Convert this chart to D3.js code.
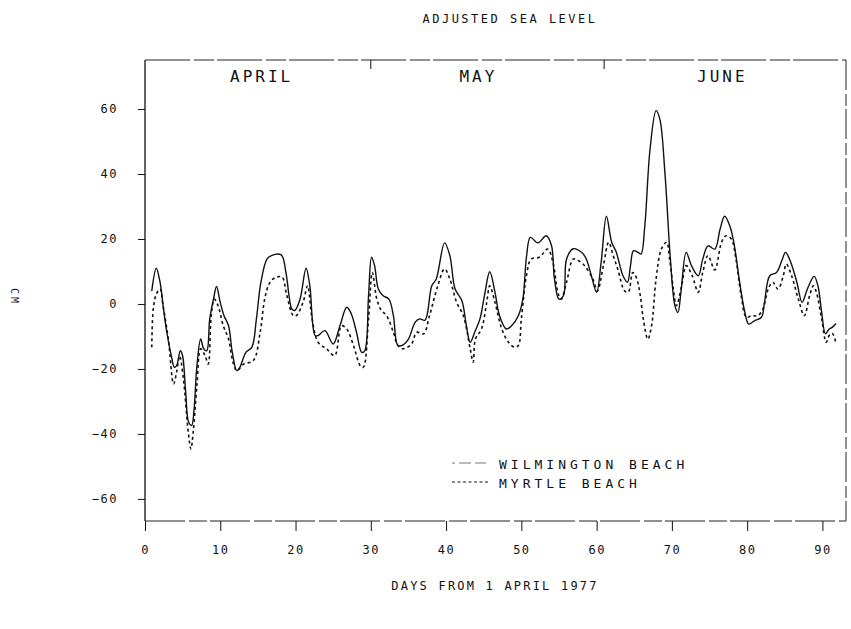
<!DOCTYPE html>
<html>
<head>
<meta charset="utf-8">
<script src="https://cdn.jsdelivr.net/npm/d3@7"></script>
<style>
  body { margin: 0; background: #fff; }
  text { font-family: "DejaVu Sans Mono", monospace; fill: #111; }
</style>
</head>
<body>
<div id="chart"></div>
<script>
// chart size and the plot box
const width = 851,
    height = 629;
const plotLeft = 145, plotRight = 842, plotTop = 60, plotBottom = 521;

// data: days from 1 April 1977, sea level in cm
const wilmingtonDays = [0.9, 1.5, 2.0, 2.4, 2.9, 3.5, 3.9, 4.2, 4.7, 5.0, 5.4, 5.8, 6.2, 6.5, 6.9, 7.4, 7.8, 8.2, 8.6, 9.1,
  9.5, 10.0, 10.5, 11.1, 11.6, 12.2, 12.6, 13.4, 14.2, 14.8, 15.4, 16.2, 16.8, 18.1, 18.7, 19.2, 19.5, 19.9, 20.6, 21.4,
  21.9, 22.6, 23.0, 23.9, 25.0, 25.9, 26.8, 27.4, 28.1, 28.8, 29.2, 29.7, 30.1, 30.5, 31.0, 31.6, 32.4, 33.0, 33.6, 34.3,
  35.0, 35.9, 36.5, 37.2, 38.1, 38.7, 39.8, 40.5, 41.2, 42.1, 42.7, 43.2, 43.8, 44.5, 45.1, 45.8, 46.5, 47.1, 48.0, 48.7,
  49.6, 50.2, 50.7, 51.2, 52.2, 53.3, 54.0, 54.4, 55.0, 55.6, 56.0, 56.9, 58.0, 58.6, 59.3, 60.0, 60.6, 61.3, 62.0, 62.6,
  63.5, 64.1, 64.5, 64.9, 65.5, 65.9, 66.4, 67.1, 67.9, 68.4, 69.1, 69.8, 70.4, 70.8, 71.2, 71.9, 72.6, 73.5, 74.1, 74.8,
  75.7, 76.4, 77.0, 77.7, 78.3, 79.0, 79.7, 80.2, 81.0, 81.9, 82.3, 83.0, 83.9, 84.6, 85.1, 85.8, 86.6, 87.3, 88.0, 88.9,
  89.4, 89.9, 90.4, 90.9, 91.3, 91.8];
const wilmingtonCm = [4, 11, 6.7, -0.5, -8.7, -16, -19.5, -19, -14.4, -16, -27, -36.4, -37.4, -33, -19, -10.8, -13.8, -14.4, -4.6, 1.5,
  5.4, 0.5, -3.6, -6.7, -14.9, -20.5, -19.5, -14.9, -13.3, -4.6, 6.7, 13.8, 14.9, 15.1, 10, 1.5, -1.5, -2, 1.5, 11,
  5.6, -9.7, -9.7, -8.2, -12.3, -6.7, -1, -3, -8.7, -14.9, -14.4, 2.6, 14.4, 11.8, 4.6, 2.6, 1.5, -3.6, -12.8, -12.6,
  -10.8, -5.6, -4.6, -5, 5.6, 7.7, 18.8, 14.9, 4.6, 1, -6.7, -11.8, -8.7, -4.6, 2.6, 9.9, 3.6, -3.6, -7.7, -6.7,
  -3.6, 1.5, 14.9, 20.5, 18.8, 21, 18, 7.7, 1.5, 2.6, 13.8, 17, 15.9, 14, 8.7, 3.6, 12.8, 27, 19, 16,
  8.7, 6.7, 11.8, 16.4, 15.9, 15.4, 24, 47.7, 59.5, 56.9, 39.5, 13.8, -0.5, -2.6, 3.6, 15.9, 11.8, 8.7, 13.8, 17.9,
  16.9, 23, 27, 24, 18, 6.7, -2.6, -6.2, -5.1, -4.1, 0.5, 8.7, 9.7, 13.3, 15.9, 12.8, 6.7, 0.5, 4.6, 8.5,
  5.6, -2.6, -9.2, -7.7, -7.2, -6];

const myrtleDays = [0.9, 1.1, 1.5, 2.0, 2.4, 3.1, 3.8, 4.2, 4.6, 5.1, 5.75, 6.1, 6.4, 6.9, 7.4, 8.0, 8.4, 8.8, 9.2, 9.7,
  10.4, 11.1, 11.7, 12.2, 13.1, 14.4, 15.3, 15.9, 16.5, 17.2, 18.2, 18.8, 19.7, 20.1, 21.0, 21.6, 22.2, 23.0, 24.1, 25.2,
  26.1, 26.8, 27.7, 28.6, 29.0, 29.7, 30.2, 30.8, 31.4, 32.1, 33.0, 33.6, 34.3, 35.4, 36.1, 37.0, 37.8, 38.9, 39.8, 40.5,
  41.4, 42.3, 43.2, 43.6, 43.9, 44.7, 45.4, 45.8, 46.5, 47.4, 48.3, 49.1, 49.6, 50.0, 50.7, 51.3, 52.4, 53.5, 54.2, 54.9,
  55.3, 56.0, 56.9, 57.6, 58.4, 59.5, 60.1, 60.9, 61.6, 62.2, 62.8, 63.7, 64.2, 64.8, 65.3, 65.8, 66.2, 66.8, 67.3, 67.9,
  68.6, 69.3, 69.7, 70.2, 70.6, 71.3, 71.9, 72.7, 73.5, 74.1, 74.8, 75.7, 76.6, 77.2, 77.9, 78.5, 79.2, 79.9, 80.6, 81.4,
  82.1, 82.8, 83.4, 84.1, 84.8, 85.2, 85.9, 86.8, 87.6, 88.3, 88.8, 89.2, 89.9, 90.5, 90.9, 91.3, 91.8];
const myrtleCm = [-13.3, -1.5, 3, 4.6, -0.5, -10.8, -24.6, -21, -16, -23, -39.5, -44.6, -39.5, -25, -13.8, -16, -18.5, -3.6, 1.5, -0.5,
  -6.7, -10.8, -18, -20.5, -18.5, -17.4, -8.7, 1.5, 6.2, 8, 8.3, 3, -3.6, -3.6, 0.5, 5.6, -4.6, -11.8, -13.8, -15.9,
  -6.7, -7.7, -12.8, -19, -19.5, -4.6, 9.7, 1.5, -2, -3.6, -8.7, -12.8, -13.8, -12.3, -8.7, -9.2, -3.6, 5.6, 10.8, 7.7,
  0.5, -3.6, -13.8, -17.9, -10.8, -7.7, 0.5, 5.6, 0.5, -7.7, -11.8, -13.3, -12.8, -4.6, 9, 13.8, 14.4, 16.9, 12.8, 3.1,
  1.5, 6.7, 13.8, 13.3, 11.8, 7.7, 4, 11.8, 19, 14.9, 10.8, 4.1, 3.6, 9.7, 8, 2.6, -4.6, -10.8, -6.7, 7.7,
  16.9, 19, 13.8, 4.6, -0.5, 5.6, 11.8, 8.7, 3.6, 9.7, 14.9, 10.5, 19, 21, 20, 14, 2.6, -4.1, -3.6, -3.6,
  -1.5, 4.6, 6.7, 4.6, 8.7, 12.3, 8.7, 1.5, -3.6, 2.6, 5.6, 3.6, -4.6, -11.8, -9.7, -9, -12];

const xTicks = [0, 10, 20, 30, 40, 50, 60, 70, 80, 90];
const yTicks = [-60, -40, -20, 0, 20, 40, 60];
const months = ["APRIL", "MAY", "JUNE"];
const monthStart = [0, 30, 61];
const monthMid = [15.5, 44.3, 76.7];

const svg = d3.select("#chart")
  .append("svg")
    .attr("width", width)
    .attr("height", height);

// scales
const x = d3.scaleLinear().domain([0, 92.6]).range([plotLeft, plotRight]);
const y = d3.scaleLinear().domain([-66.8, 75.1]).range([plotBottom, plotTop]);

// frame - the scanned original has a broken top/right/bottom line
svg.append("line")
  .attr("x1", plotLeft).attr("x2", plotLeft).attr("y1", plotTop).attr("y2", plotBottom)
  .attr("stroke", "#111").attr("stroke-width", 1.3);
svg.append("line")
  .attr("x1", plotLeft).attr("x2", plotRight + 4).attr("y1", plotTop).attr("y2", plotTop)
  .attr("stroke", "#222").attr("stroke-width", 1)
  .attr("stroke-dasharray", "45,4,20,3");
svg.append("line")
  .attr("x1", plotRight + 4).attr("x2", plotRight + 4).attr("y1", plotTop).attr("y2", plotBottom)
  .attr("stroke", "#222").attr("stroke-width", 1)
  .attr("stroke-dasharray", "30,4,12,3");
svg.append("line")
  .attr("x1", plotLeft).attr("x2", plotRight + 4).attr("y1", plotBottom).attr("y2", plotBottom)
  .attr("stroke", "#222").attr("stroke-width", 1)
  .attr("stroke-dasharray", "40,4,18,3");

// x axis
const xAxis = d3.axisBottom(x)
  .tickValues(xTicks)
  .tickSize(10)
  .tickPadding(14)
  .tickFormat(d3.format("d"));
const gx = svg.append("g")
  .attr("transform", `translate(0,${plotBottom})`)
  .call(xAxis);
gx.select(".domain").remove();
gx.selectAll("line").attr("stroke", "#111");
gx.selectAll("text")
  .attr("font-family", "DejaVu Sans Mono")
  .attr("font-size", 12)
  .attr("letter-spacing", 1.5)
  .attr("fill", "#111");

// y axis
const yAxis = d3.axisLeft(y)
  .tickValues(yTicks)
  .tickSize(7)
  .tickPadding(20)
  .tickFormat(d3.format("d"));
const gy = svg.append("g")
  .attr("transform", `translate(${plotLeft},0)`)
  .call(yAxis);
gy.select(".domain").remove();
gy.selectAll("line").attr("stroke", "#111");
gy.selectAll("text")
  .attr("font-family", "DejaVu Sans Mono")
  .attr("font-size", 12)
  .attr("letter-spacing", 1.5)
  .attr("fill", "#111");

// month tick marks on the top border
svg.selectAll(".monthTick")
  .data(monthStart.slice(1))
  .join("line")
    .attr("x1", d => x(d)).attr("x2", d => x(d))
    .attr("y1", plotTop).attr("y2", plotTop + 9)
    .attr("stroke", "#111");

svg.selectAll(".monthLabel")
  .data(months)
  .join("text")
    .attr("x", (d, i) => x(monthMid[i]))
    .attr("y", 82)
    .attr("text-anchor", "middle")
    .attr("font-size", 16)
    .attr("letter-spacing", 3)
    .text(d => d);

// lines
const line = d3.line()
  .x(d => x(d[0]))
  .y(d => y(d[1]))
  .curve(d3.curveCatmullRom.alpha(0.5));

const wilmington = wilmingtonDays.map((d, i) => [d, wilmingtonCm[i]]);
const myrtle = myrtleDays.map((d, i) => [d, myrtleCm[i]]);

svg.append("path")
  .datum(myrtle)
  .attr("d", line)
  .attr("fill", "none")
  .attr("stroke", "#111")
  .attr("stroke-width", 1.6)
  .attr("stroke-dasharray", "3,3");

svg.append("path")
  .datum(wilmington)
  .attr("d", line)
  .attr("fill", "none")
  .attr("stroke", "#111")
  .attr("stroke-width", 1.4);

// legend
const legend = svg.append("g");
legend.append("line")
  .attr("x1", 452).attr("x2", 486).attr("y1", 463).attr("y2", 463)
  .attr("stroke", "#777").attr("stroke-width", 1)
  .attr("stroke-dasharray", "3,4,9,0");
legend.append("line")
  .attr("x1", 452).attr("x2", 490).attr("y1", 482).attr("y2", 482)
  .attr("stroke", "#111").attr("stroke-width", 1)
  .attr("stroke-dasharray", "3,2.5");
legend.append("text")
  .attr("x", 499).attr("y", 469)
  .attr("font-size", 13).attr("letter-spacing", 4)
  .text("WILMINGTON BEACH");
legend.append("text")
  .attr("x", 499).attr("y", 488)
  .attr("font-size", 13).attr("letter-spacing", 4)
  .text("MYRTLE BEACH");

// titles
svg.append("text")
  .attr("x", 510).attr("y", 23)
  .attr("text-anchor", "middle")
  .attr("font-size", 12).attr("letter-spacing", 2.5)
  .text("ADJUSTED SEA LEVEL");

svg.append("text")
  .attr("x", 495).attr("y", 590)
  .attr("text-anchor", "middle")
  .attr("font-size", 12).attr("letter-spacing", 2.2)
  .text("DAYS FROM 1 APRIL 1977");

svg.append("text")
  .attr("transform", "translate(11,297) rotate(90)")
  .attr("text-anchor", "middle")
  .attr("font-size", 10).attr("letter-spacing", 3)
  .text("CM");
</script>
</body>
</html>
